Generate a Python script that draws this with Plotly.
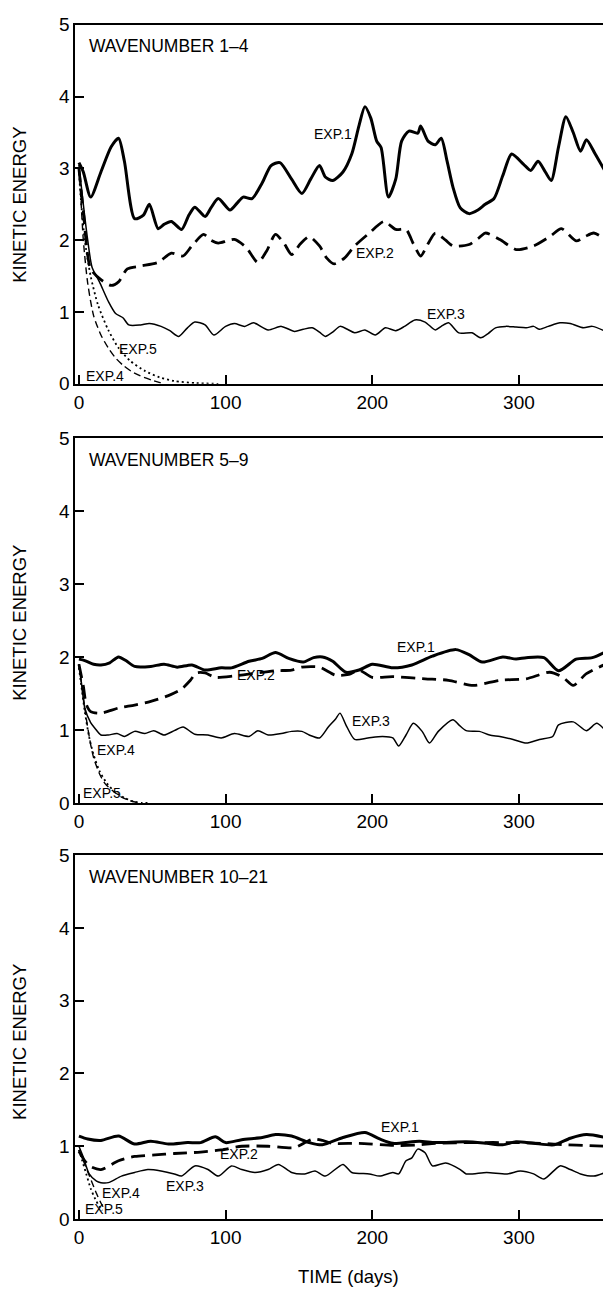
import plotly.graph_objects as go

# ---------------- data ----------------
panel_titles = ["WAVENUMBER 1–4", "WAVENUMBER 5–9", "WAVENUMBER 10–21"]
x_ticks = [0, 100, 200, 300]
y_ticks = [0, 1, 2, 3, 4, 5]

# Panel 1 (wavenumber 1-4)
p1_exp1_t = [0, 3, 8, 15, 22, 27, 31, 38, 44, 48, 54, 58, 63, 70, 75, 79, 86, 90, 95, 103, 108, 112, 118, 125, 131, 137, 145, 152, 158, 164, 168, 173, 180, 186, 191, 195, 199, 203, 206, 211, 216, 220, 225, 231, 233, 238, 243, 247, 251, 255, 260, 266, 272, 277, 283, 289, 295, 303, 308, 313, 318, 322, 327, 332, 337, 342, 346, 352, 359]
p1_exp1_v = [3.08, 2.95, 2.6, 2.95, 3.3, 3.42, 3.1, 2.3, 2.35, 2.5, 2.16, 2.22, 2.26, 2.15, 2.35, 2.46, 2.33, 2.45, 2.58, 2.42, 2.52, 2.6, 2.58, 2.8, 3.04, 3.08, 2.85, 2.65, 2.85, 3.04, 2.88, 2.83, 2.95, 3.2, 3.6, 3.86, 3.7, 3.38, 3.29, 2.6, 2.85, 3.38, 3.52, 3.49, 3.59, 3.38, 3.33, 3.42, 3.1, 2.74, 2.45, 2.37, 2.42, 2.5, 2.58, 2.9, 3.2, 3.06, 2.97, 3.1, 2.95, 2.83, 3.3, 3.72, 3.5, 3.24, 3.4, 3.2, 2.95]

p1_exp2_t = [0, 3, 8, 15, 22, 27, 33, 42, 54, 63, 71, 77, 85, 90, 95, 101, 106, 114, 122, 128, 134, 140, 145, 151, 157, 164, 169, 174, 181, 188, 198, 208, 216, 223, 228, 233, 238, 243, 250, 255, 266, 272, 277, 287, 298, 310, 321, 329, 339, 345, 351, 359]
p1_exp2_v = [3.0, 2.4, 1.6, 1.45, 1.37, 1.42, 1.6, 1.64, 1.69, 1.82, 1.78, 1.92, 2.08, 2.0, 1.96, 1.99, 2.01, 1.9, 1.69, 1.85, 2.08, 1.95, 1.8, 1.95, 2.05, 1.92, 1.75, 1.67, 1.75, 1.92, 2.1, 2.26, 2.15, 2.15, 1.95, 1.78, 1.95, 2.1, 2.0, 1.92, 1.94, 2.02, 2.1, 2.01, 1.87, 1.92, 2.05, 2.16, 1.99, 2.05, 2.1, 2.01]

p1_exp3_t = [0, 3, 6, 9, 14, 20, 25, 30, 34, 42, 48, 56, 62, 68, 74, 79, 86, 92, 100, 106, 113, 119, 129, 138, 147, 153, 159, 164, 168, 173, 178, 183, 188, 195, 202, 209, 216, 222, 229, 236, 243, 247, 252, 259, 268, 274, 279, 284, 291, 298, 305, 310, 314, 320, 328, 335, 344, 350, 359]
p1_exp3_v = [3.05, 2.5, 2.0, 1.62, 1.42, 1.15, 0.98, 0.92, 0.82, 0.82, 0.84, 0.8, 0.74, 0.66, 0.78, 0.86, 0.82, 0.68, 0.8, 0.84, 0.8, 0.85, 0.75, 0.8, 0.73, 0.76, 0.78, 0.72, 0.66, 0.72, 0.8, 0.76, 0.71, 0.75, 0.68, 0.78, 0.74, 0.8, 0.89, 0.86, 0.75, 0.8, 0.85, 0.71, 0.71, 0.64, 0.7, 0.78, 0.8, 0.79, 0.78, 0.8, 0.76, 0.8, 0.85, 0.84, 0.78, 0.8, 0.73]

p1_exp4_t = [0, 1, 3, 6, 10, 15, 20, 25, 30, 36, 43, 50, 58]
p1_exp4_v = [3.0, 2.7, 2.0, 1.4, 0.95, 0.68, 0.5, 0.36, 0.26, 0.17, 0.1, 0.05, 0.0]

p1_exp5_t = [0, 1, 4, 8, 13, 20, 27, 35, 45, 55, 65, 80, 95]
p1_exp5_v = [3.0, 2.65, 2.0, 1.5, 1.1, 0.75, 0.5, 0.32, 0.18, 0.09, 0.04, 0.01, 0.0]

# Panel 2 (wavenumber 5-9)
p2_exp1_t = [0, 4, 10, 15, 21, 27, 32, 38, 49, 58, 67, 77, 86, 97, 104, 116, 125, 134, 143, 153, 160, 166, 173, 182, 191, 200, 214, 227, 241, 257, 266, 275, 289, 298, 305, 317, 327, 339, 350, 359]
p2_exp1_v = [1.97, 1.95, 1.9, 1.89, 1.92, 2.0, 1.95, 1.87, 1.87, 1.9, 1.86, 1.89, 1.82, 1.85, 1.85, 1.94, 1.98, 2.06, 1.98, 1.93, 1.99, 2.0, 1.94, 1.79, 1.82, 1.9, 1.85, 1.89, 2.01, 2.1, 2.03, 1.93, 2.0, 1.97, 1.99, 1.99, 1.81, 1.97, 1.99, 2.07]

p2_exp2_t = [0, 3, 5, 8, 15, 27, 38, 49, 61, 70, 76, 80, 86, 93, 106, 118, 134, 145, 152, 164, 175, 184, 191, 200, 214, 236, 252, 269, 287, 305, 321, 330, 337, 346, 359]
p2_exp2_v = [1.9, 1.6, 1.35, 1.25, 1.23, 1.3, 1.34, 1.39, 1.47, 1.56, 1.68, 1.78, 1.78, 1.72, 1.74, 1.77, 1.81, 1.82, 1.86, 1.86, 1.75, 1.76, 1.82, 1.72, 1.73, 1.70, 1.68, 1.61, 1.68, 1.70, 1.79, 1.72, 1.61, 1.77, 1.90]

p2_exp3_t = [0, 2, 4, 8, 11, 15, 20, 26, 31, 38, 45, 51, 58, 65, 71, 79, 88, 97, 106, 116, 122, 129, 138, 145, 152, 157, 164, 170, 175, 178, 182, 188, 197, 207, 214, 218, 223, 228, 234, 239, 245, 255, 259, 264, 273, 280, 287, 296, 305, 314, 323, 327, 337, 346, 353, 359]
p2_exp3_v = [1.9, 1.6, 1.3, 1.1, 1.02, 0.93, 0.93, 0.95, 0.91, 0.98, 0.95, 0.99, 0.93, 0.99, 1.04, 0.94, 0.93, 0.89, 0.95, 0.91, 0.99, 0.93, 0.95, 0.98, 0.98, 0.93, 0.89, 1.04, 1.15, 1.23, 1.07, 0.87, 0.89, 0.91, 0.89, 0.78, 0.93, 1.09, 0.98, 0.82, 0.98, 1.14, 1.07, 0.99, 0.98, 0.93, 0.91, 0.87, 0.82, 0.87, 0.91, 1.07, 1.11, 0.99, 1.09, 0.99]

p2_exp4_t = [0, 2, 5, 8, 10, 14, 18, 24, 29, 35, 41]
p2_exp4_v = [1.9, 1.6, 1.16, 0.8, 0.62, 0.4, 0.26, 0.15, 0.08, 0.03, 0.0]

p2_exp5_t = [0, 2, 4, 7, 10, 14, 19, 25, 31, 37, 43, 48]
p2_exp5_v = [1.85, 1.55, 1.25, 0.9, 0.66, 0.44, 0.27, 0.14, 0.07, 0.02, 0.0, 0.0]

# Panel 3 (wavenumber 10-21)
p3_exp1_t = [0, 6, 15, 27, 38, 49, 61, 74, 83, 93, 100, 111, 125, 134, 145, 157, 166, 180, 195, 205, 214, 232, 243, 264, 278, 289, 298, 310, 324, 335, 346, 359]
p3_exp1_v = [1.14, 1.1, 1.08, 1.14, 1.03, 1.07, 1.03, 1.05, 1.05, 1.13, 1.05, 1.09, 1.12, 1.16, 1.14, 1.05, 1.02, 1.12, 1.19, 1.1, 1.04, 1.07, 1.05, 1.06, 1.04, 1.02, 1.06, 1.04, 1.02, 1.11, 1.16, 1.12]

p3_exp2_t = [0, 4, 8, 15, 27, 38, 52, 65, 83, 97, 111, 129, 147, 155, 160, 166, 173, 191, 218, 232, 243, 269, 296, 315, 333, 346, 359]
p3_exp2_v = [0.93, 0.8, 0.72, 0.68, 0.8, 0.86, 0.88, 0.9, 0.92, 0.95, 1.0, 1.0, 0.98, 1.06, 1.1, 1.08, 1.04, 1.04, 1.01, 1.02, 1.04, 1.05, 1.05, 1.04, 1.02, 1.01, 1.0]

p3_exp3_t = [0, 3, 7, 12, 15, 20, 29, 38, 47, 56, 65, 70, 79, 88, 95, 104, 111, 120, 129, 136, 145, 154, 161, 168, 180, 186, 198, 205, 214, 218, 223, 227, 231, 236, 241, 250, 260, 264, 278, 292, 301, 310, 317, 328, 335, 342, 351, 359]
p3_exp3_v = [1.0, 0.85, 0.62, 0.52, 0.5, 0.5, 0.59, 0.64, 0.68, 0.66, 0.62, 0.59, 0.73, 0.68, 0.59, 0.73, 0.68, 0.64, 0.68, 0.75, 0.64, 0.62, 0.66, 0.59, 0.75, 0.64, 0.62, 0.59, 0.64, 0.62, 0.8, 0.84, 0.96, 0.91, 0.73, 0.77, 0.68, 0.62, 0.64, 0.62, 0.66, 0.62, 0.55, 0.73, 0.68, 0.62, 0.59, 0.64]

p3_exp4_t = [0, 3, 6, 9, 12, 15, 17]
p3_exp4_v = [0.95, 0.8, 0.65, 0.5, 0.35, 0.22, 0.15]

p3_exp5_t = [0, 2, 5, 8, 11, 14, 16]
p3_exp5_v = [0.95, 0.82, 0.62, 0.42, 0.28, 0.17, 0.12]

# label positions (data coords) per panel: (text, x, y)
labels_p1 = [("EXP.1", 173, 3.48), ("EXP.2", 202, 1.82), ("EXP.3", 250, 0.97), ("EXP.5", 40, 0.48), ("EXP.4", 18, 0.11)]
labels_p2 = [("EXP.1", 230, 2.13), ("EXP.2", 121, 1.75), ("EXP.3", 199, 1.12), ("EXP.4", 25, 0.73), ("EXP.5", 16, 0.13)]
labels_p3 = [("EXP.1", 219, 1.27), ("EXP.2", 109, 0.89), ("EXP.3", 72, 0.46), ("EXP.4", 29, 0.36), ("EXP.5", 17, 0.14)]

# ---------------- styling ----------------
FONT = "Liberation Sans, Arial, Helvetica, sans-serif"
styles = {
    "EXP.1": dict(color="black", width=3.0, dash="solid"),
    "EXP.2": dict(color="black", width=2.8, dash="14px,7px"),
    "EXP.3": dict(color="black", width=1.5, dash="solid"),
    "EXP.4": dict(color="black", width=1.4, dash="7px,4px"),
    "EXP.5": dict(color="black", width=1.8, dash="2px,3px"),
}

panels = [
    dict(series=[("EXP.1", p1_exp1_t, p1_exp1_v), ("EXP.2", p1_exp2_t, p1_exp2_v), ("EXP.3", p1_exp3_t, p1_exp3_v),
                 ("EXP.4", p1_exp4_t, p1_exp4_v), ("EXP.5", p1_exp5_t, p1_exp5_v)],
         labels=labels_p1, domain=[1 - 380 / 1293, 1 - 15 / 1293]),
    dict(series=[("EXP.1", p2_exp1_t, p2_exp1_v), ("EXP.2", p2_exp2_t, p2_exp2_v), ("EXP.3", p2_exp3_t, p2_exp3_v),
                 ("EXP.4", p2_exp4_t, p2_exp4_v), ("EXP.5", p2_exp5_t, p2_exp5_v)],
         labels=labels_p2, domain=[1 - 806 / 1293, 1 - 435 / 1293]),
    dict(series=[("EXP.1", p3_exp1_t, p3_exp1_v), ("EXP.2", p3_exp2_t, p3_exp2_v), ("EXP.3", p3_exp3_t, p3_exp3_v),
                 ("EXP.4", p3_exp4_t, p3_exp4_v), ("EXP.5", p3_exp5_t, p3_exp5_v)],
         labels=labels_p3, domain=[1 - 1229 / 1293, 1 - 859 / 1293]),
]

fig = go.Figure()
annotations = []
layout_axes = {}
x_domain = [73.5 / 603, 1.0]
x_range = [-2.5, 357.3]

for i, p in enumerate(panels):
    n = "" if i == 0 else str(i + 1)
    xa, ya = "x" + n, "y" + n
    for name, t, v in p["series"]:
        s = styles[name]
        fig.add_trace(go.Scatter(
            x=t, y=v, xaxis=xa, yaxis=ya, mode="lines", name=name, showlegend=False,
            line=dict(color=s["color"], width=s["width"], dash=s["dash"], shape="spline", smoothing=0.7),
            cliponaxis=True, hoverinfo="skip"))
    layout_axes["xaxis" + n] = dict(
        domain=x_domain, range=x_range, anchor=ya, tickmode="array", tickvals=x_ticks,
        ticks="inside", ticklen=9, tickwidth=1.5, tickcolor="black",
        showline=True, linewidth=2, linecolor="black", mirror=True,
        showgrid=False, zeroline=False, fixedrange=True,
        tickfont=dict(family=FONT, size=19, color="black"))
    layout_axes["yaxis" + n] = dict(
        domain=p["domain"], range=[0, 5], anchor=xa, tickmode="array", tickvals=y_ticks,
        ticks="inside", ticklen=9, tickwidth=1.5, tickcolor="black",
        showline=True, linewidth=2, linecolor="black", mirror=False,
        showgrid=False, zeroline=False, fixedrange=True,
        tickfont=dict(family=FONT, size=19, color="black"))
    for text, lx, ly in p["labels"]:
        annotations.append(dict(text=text, x=lx, y=ly, xref=xa, yref=ya, showarrow=False,
                                font=dict(family=FONT, size=14, color="black"),
                                xanchor="center", yanchor="middle"))
    # panel title
    annotations.append(dict(text=panel_titles[i], x=5.5, y=4.7, xref=xa, yref=ya, showarrow=False,
                            font=dict(family=FONT, size=17.5, color="black"),
                            xanchor="left", yanchor="middle"))

# y-axis titles
for cy in [198, 623, 1049]:
    annotations.append(dict(text="KINETIC ENERGY", x=18 / 603, y=1 - cy / 1293, xref="paper", yref="paper",
                            showarrow=False, textangle=-90,
                            font=dict(family=FONT, size=18.5, color="black"),
                            xanchor="center", yanchor="middle"))
# x-axis title
annotations.append(dict(text="TIME (days)", x=348 / 603, y=1 - 1287 / 1293, xref="paper", yref="paper",
                        showarrow=False, font=dict(family=FONT, size=18.5, color="black"),
                        xanchor="center", yanchor="middle"))

fig.update_layout(
    width=603, height=1293, margin=dict(l=0, r=0, t=0, b=0),
    paper_bgcolor="white", plot_bgcolor="white",
    annotations=annotations, **layout_axes)

fig.write_html("out.html", config={"displayModeBar": False})
